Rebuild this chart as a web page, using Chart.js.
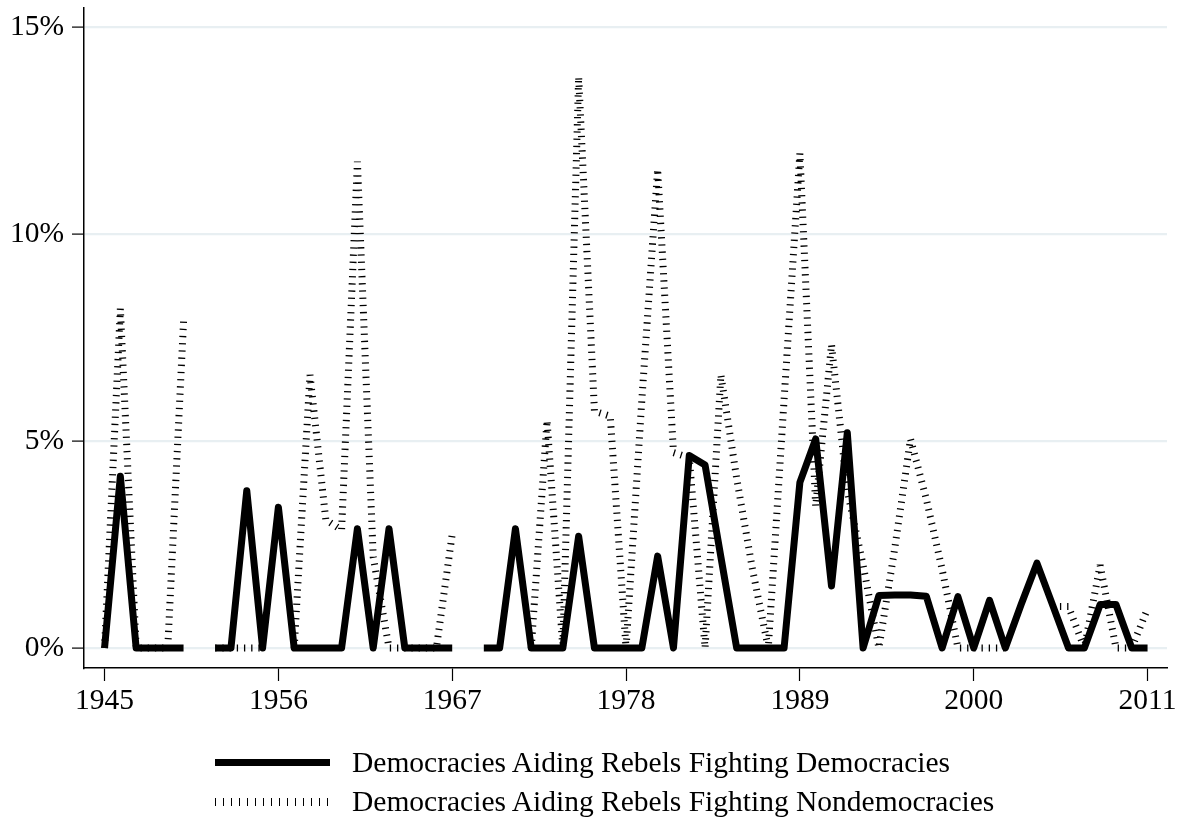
<!DOCTYPE html>
<html>
<head>
<meta charset="utf-8">
<title>Democracies aiding rebels, 1945–2011</title>
<script src="https://cdn.jsdelivr.net/npm/chart.js@4.4.1/dist/chart.umd.min.js"></script>
<style>
  html, body { margin: 0; padding: 0; background: #ffffff; }
  #wrap { position: relative; width: 1181px; height: 821px; overflow: hidden; }
  #chart { position: absolute; left: 0; top: 0; }
  #legend {
    position: absolute; left: 215px; top: 743px;
    font-family: "Liberation Serif", "Times New Roman", serif;
    font-size: 29.5px; color: #000; line-height: 1;
  }
  .row { display: flex; align-items: center; height: 39px; }
  .swatch { width: 115px; margin-right: 22px; flex: none; }
  .swatch.solid { height: 7px; background: #000; }
  .swatch.dash {
    height: 8px;
    background: repeating-linear-gradient(to right, #000 0 1px, transparent 1px 8px);
  }
</style>
</head>
<body>
<div id="wrap">
  <canvas id="chart" width="1181" height="821"></canvas>
  <div id="legend"></div>
</div>
<script>
// Year of each observation
const years = [
  1945, 1946, 1947, 1948, 1949, 1950, 1951, 1952, 1953, 1954,
  1955, 1956, 1957, 1958, 1959, 1960, 1961, 1962, 1963, 1964,
  1965, 1966, 1967, 1968, 1969, 1970, 1971, 1972, 1973, 1974,
  1975, 1976, 1977, 1978, 1979, 1980, 1981, 1982, 1983, 1984,
  1985, 1986, 1987, 1988, 1989, 1990, 1991, 1992, 1993, 1994,
  1995, 1996, 1997, 1998, 1999, 2000, 2001, 2002, 2003, 2004,
  2005, 2006, 2007, 2008, 2009, 2010, 2011
];

// Share (%) of democracies aiding rebels fighting democracies (null = no data)
const aidVsDemocracies = [
  0, 4.15, 0, 0, 0, 0, null, 0, 0, 3.8,
  0, 3.4, 0, 0, 0, 0, 2.88, 0, 2.88, 0,
  0, 0, 0, null, 0, 0, 2.88, 0, 0, 0,
  2.7, 0, 0, 0, 0, 2.22, 0, 4.65, 4.42, 2.2,
  0, 0, 0, 0, 4.0, 5.05, 1.5, 5.2, 0, 1.27,
  1.28, 1.28, 1.25, 0, 1.24, 0, 1.15, 0, 1.05, 2.05,
  1.03, 0, 0, 1.05, 1.05, 0, 0
];

// Share (%) of democracies aiding rebels fighting nondemocracies (null = no data)
const aidVsNondemocracies = [
  0, 8.2, 0, 0, 0, 7.9, null, 0, 0, 0,
  0, null, 0, 6.6, 3.1, 2.85, 11.75, 2.2, 0, 0,
  0, 0, 2.75, null, null, null, null, 0, 5.5, 0,
  13.8, 5.72, 5.6, 0, 6.0, 11.57, 4.72, 4.6, 0, 6.6,
  4.1, 1.9, 0, 6.0, 11.95, 3.42, 7.33, 3.8, 2.0, 0,
  2.4, 5.05, 3.6, 1.9, 0, 0, 0, 0, null, null,
  1.0, 1.0, 0, 2.0, 0, 0, 0.95
];

const seriesLabels = [
  "Democracies Aiding Rebels Fighting Democracies",
  "Democracies Aiding Rebels Fighting Nondemocracies"
];

const xTickValues = [1945, 1956, 1967, 1978, 1989, 2000, 2011];
const yTickValues = [0, 5, 10, 15];

const toPoints = vals => years.map((yr, i) => ({ x: yr, y: vals[i] }));

const tickFont = { family: "'Liberation Serif', 'Times New Roman', serif", size: 29.5 };

// Keep the plot frame fixed: no extra room reserved for half-labels at the ends
const clearScalePadding = s => {
  s.paddingTop = 0; s.paddingBottom = 0;
  s.paddingLeft = 0; s.paddingRight = 0;
};

const chart = new Chart(document.getElementById("chart"), {
  type: "line",
  data: {
    datasets: [
      {
        label: seriesLabels[0],
        data: toPoints(aidVsDemocracies),
        borderColor: "#000000",
        borderWidth: 7,
        pointRadius: 0,
        borderJoinStyle: "round",
        borderCapStyle: "butt",
        tension: 0,
        spanGaps: false
      },
      {
        label: seriesLabels[1],
        data: toPoints(aidVsNondemocracies),
        borderColor: "#000000",
        borderWidth: 7,
        borderDash: [1.3, 5.9],
        pointRadius: 0,
        borderJoinStyle: "bevel",
        borderCapStyle: "butt",
        tension: 0,
        spanGaps: false
      }
    ]
  },
  options: {
    responsive: false,
    animation: false,
    devicePixelRatio: 1,
    layout: { padding: { left: 0, top: 8, right: 14, bottom: 93 } },
    plugins: {
      legend: { display: false },
      tooltip: { enabled: false }
    },
    scales: {
      x: {
        type: "linear",
        min: 1943.7,
        max: 2012.23,
        afterBuildTicks: s => { s.ticks = xTickValues.map(v => ({ value: v })); },
        afterFit: s => { s.height = 60; clearScalePadding(s); },
        ticks: {
          font: tickFont,
          color: "#000",
          padding: 3,
          maxRotation: 0,
          autoSkip: false,
          callback: v => String(v)
        },
        grid: {
          drawOnChartArea: false,
          drawTicks: true,
          tickLength: 13,
          tickColor: "#000",
          tickWidth: 1.2
        },
        border: { color: "#000", width: 1.5 }
      },
      y: {
        min: -0.483,
        max: 15.46,
        afterBuildTicks: s => { s.ticks = yTickValues.map(v => ({ value: v })); },
        afterFit: s => { s.width = 84; clearScalePadding(s); },
        ticks: {
          font: tickFont,
          color: "#000",
          padding: 8,
          callback: v => v + "%"
        },
        grid: {
          color: "#e8eff2",
          lineWidth: 2.2,
          tickLength: 12,
          tickColor: "#000",
          tickWidth: 1.2
        },
        border: { color: "#000", width: 1.5 }
      }
    }
  }
});

// Legend rows built from the chart's datasets
const legendEl = document.getElementById("legend");
chart.data.datasets.forEach(ds => {
  const row = document.createElement("div");
  row.className = "row";
  const sw = document.createElement("span");
  sw.className = "swatch " + (ds.borderDash ? "dash" : "solid");
  const txt = document.createElement("span");
  txt.textContent = ds.label;
  row.appendChild(sw);
  row.appendChild(txt);
  legendEl.appendChild(row);
});
</script>
</body>
</html>
